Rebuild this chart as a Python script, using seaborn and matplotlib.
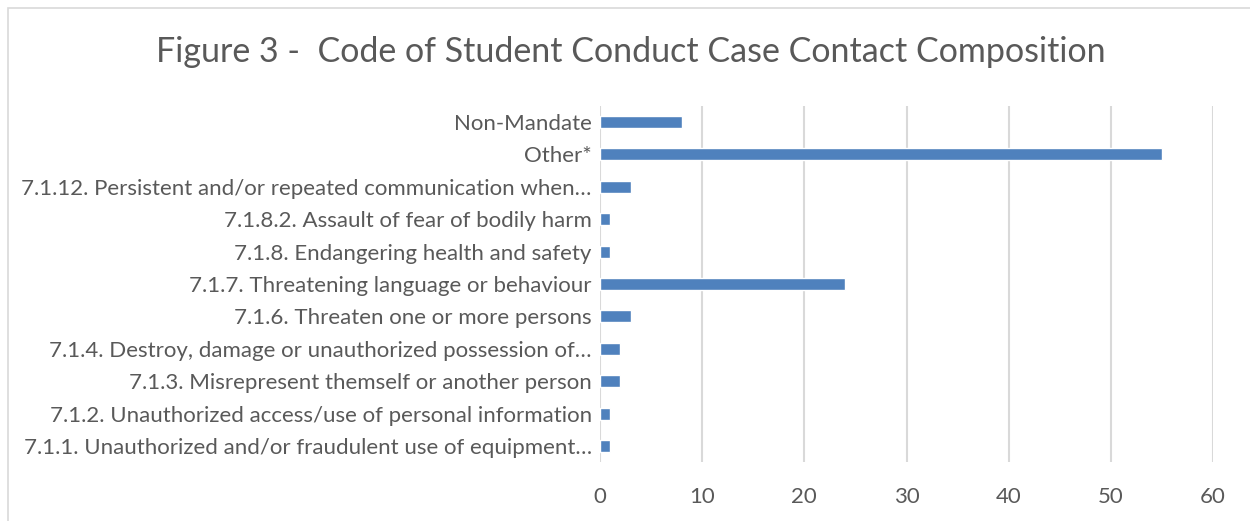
import pandas as pd
import matplotlib.pyplot as plt
import seaborn as sns
from matplotlib.patches import Rectangle

# categories listed top to bottom as in the chart
categories = [
    "Non-Mandate",
    "Other*",
    "7.1.12. Persistent and/or repeated communication when\u2026",
    "7.1.8.2. Assault of fear of bodily harm",
    "7.1.8. Endangering health and safety",
    "7.1.7. Threatening language or behaviour",
    "7.1.6. Threaten one or more persons",
    "7.1.4. Destroy, damage or unauthorized possession of\u2026",
    "7.1.3. Misrepresent themself or another person",
    "7.1.2. Unauthorized access/use of personal information",
    "7.1.1. Unauthorized and/or fraudulent use of equipment\u2026",
]
counts = [8, 55, 3, 1, 1, 24, 3, 2, 2, 1, 1]
x_ticks = [0, 10, 20, 30, 40, 50, 60]

df = pd.DataFrame({"Category": categories, "Count": counts})

sns.set_theme(style="white")
plt.rcParams["font.family"] = ["Lato", "DejaVu Sans"]
text_color = "#595959"

fig = plt.figure(figsize=(12.5, 5.21), dpi=100)
ax = fig.add_axes([0.48, 0.113, 0.4904, 0.684])

sns.barplot(data=df, x="Count", y="Category", order=categories,
            color="#4F81BD", saturation=1, width=0.37, ax=ax, zorder=3)

ax.set_xlim(0, 60)
ax.set_xticks(x_ticks)
ax.xaxis.grid(True, color="#D9D9D9", linewidth=1.5, zorder=0)
ax.yaxis.grid(False)
for side in ["top", "right", "bottom", "left"]:
    ax.spines[side].set_visible(False)
ax.set_xlabel("")
ax.set_ylabel("")
ax.tick_params(axis="x", length=0, pad=18, labelsize=16, labelcolor=text_color)
ax.tick_params(axis="y", length=0, pad=6, labelsize=16, labelcolor=text_color)

fig.suptitle("Figure 3 -  Code of Student Conduct Case Contact Composition",
             x=0.505, y=0.93, fontsize=24.5, color=text_color)

# chart area border
fig.patches.append(Rectangle((0.0064, -0.01), 1.0, 0.995, transform=fig.transFigure,
                             fill=False, edgecolor="#D9D9D9", linewidth=1.2))

fig.savefig("out.png", dpi=100)
